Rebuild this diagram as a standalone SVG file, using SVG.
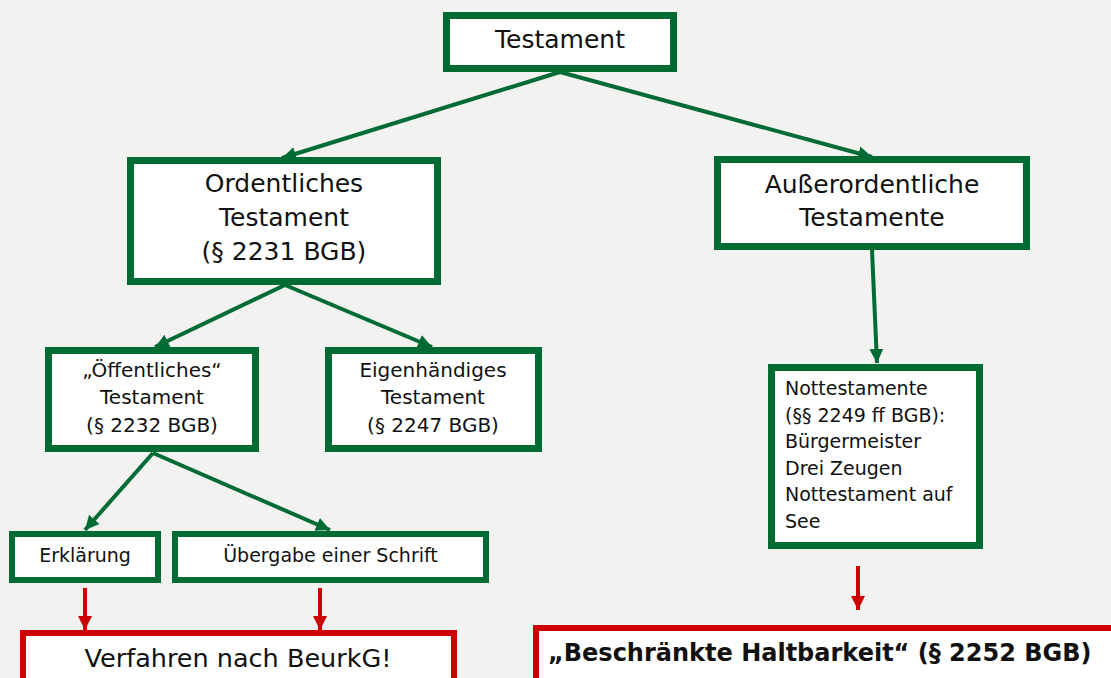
<svg xmlns="http://www.w3.org/2000/svg" width="1111" height="678" viewBox="0 0 1111 678">
<style>
.g{fill:#fff;stroke:#006B33;stroke-width:7}
.gs{fill:#fff;stroke:#006B33;stroke-width:6}
.r{fill:#fff;stroke:#CC0000;stroke-width:6}
.t{font-family:"DejaVu Sans",sans-serif;fill:#111}
.L{font-size:25px}
.M{font-size:20px}
.S{font-size:19px}
.cg{stroke:#006B33;stroke-width:4;fill:none}
.cr{stroke:#CC0000;stroke-width:4;fill:none}
</style>
<defs>
<marker id="ag" markerUnits="userSpaceOnUse" markerWidth="15" markerHeight="15" refX="14" refY="7" orient="auto"><path d="M0,0 L14,7 L0,14 z" fill="#006B33"/></marker>
<marker id="ar" markerUnits="userSpaceOnUse" markerWidth="15" markerHeight="15" refX="14" refY="7" orient="auto"><path d="M0,0 L14,7 L0,14 z" fill="#CC0000"/></marker>
</defs>
<rect width="1111" height="678" fill="#F2F2F0"/>
<g id="connectors">
<line class="cg" x1="560" y1="72" x2="282" y2="158" marker-end="url(#ag)"/>
<line class="cg" x1="560" y1="72" x2="872" y2="157" marker-end="url(#ag)"/>
<line class="cg" x1="285" y1="285" x2="155" y2="347" marker-end="url(#ag)"/>
<line class="cg" x1="285" y1="285" x2="432" y2="347" marker-end="url(#ag)"/>
<line class="cg" x1="153" y1="453" x2="85" y2="530" marker-end="url(#ag)"/>
<line class="cg" x1="153" y1="453" x2="330" y2="530" marker-end="url(#ag)"/>
<line class="cg" x1="872" y1="250" x2="877" y2="363" marker-end="url(#ag)"/>
<line class="cr" x1="85" y1="588" x2="85" y2="630" marker-end="url(#ar)"/>
<line class="cr" x1="320" y1="588" x2="320" y2="630" marker-end="url(#ar)"/>
<line class="cr" x1="858" y1="566" x2="858" y2="610" marker-end="url(#ar)"/>
</g>
<g id="testament">
<rect class="g" x="446.5" y="15.5" width="227" height="53"/>
<text class="t L" x="560" y="48" text-anchor="middle">Testament</text>
</g>
<g id="ordentliches">
<rect class="g" x="130.5" y="160.5" width="307" height="121"/>
<text class="t L" text-anchor="middle"><tspan x="284" y="192">Ordentliches</tspan><tspan x="284" y="226">Testament</tspan><tspan x="284" y="260">(§ 2231 BGB)</tspan></text>
</g>
<g id="ausserordentliche">
<rect class="g" x="717.5" y="159.5" width="309" height="87"/>
<text class="t L" text-anchor="middle"><tspan x="872" y="193">Außerordentliche</tspan><tspan x="872" y="226">Testamente</tspan></text>
</g>
<g id="oeffentliches">
<rect class="g" x="48.5" y="350.5" width="207" height="98"/>
<text class="t M" text-anchor="middle"><tspan x="152" y="377">„Öffentliches“</tspan><tspan x="152" y="404">Testament</tspan><tspan x="152" y="432">(§ 2232 BGB)</tspan></text>
</g>
<g id="eigenhaendiges">
<rect class="g" x="328.5" y="350.5" width="210" height="98"/>
<text class="t M" text-anchor="middle"><tspan x="433" y="377">Eigenhändiges</tspan><tspan x="433" y="404">Testament</tspan><tspan x="433" y="432">(§ 2247 BGB)</tspan></text>
</g>
<g id="nottestamente">
<rect class="g" x="771.5" y="367.5" width="208" height="178"/>
<text class="t S"><tspan x="785" y="395">Nottestamente</tspan><tspan x="785" y="422">(§§ 2249 ff BGB):</tspan><tspan x="785" y="448">Bürgermeister</tspan><tspan x="785" y="475">Drei Zeugen</tspan><tspan x="785" y="501">Nottestament auf</tspan><tspan x="785" y="528">See</tspan></text>
</g>
<g id="erklaerung">
<rect class="gs" x="12" y="534" width="146" height="46"/>
<text class="t S" x="85" y="562" text-anchor="middle">Erklärung</text>
</g>
<g id="uebergabe">
<rect class="gs" x="175" y="534" width="311" height="46"/>
<text class="t S" x="330.5" y="562" text-anchor="middle">Übergabe einer Schrift</text>
</g>
<g id="verfahren">
<rect class="r" x="23" y="633" width="431" height="60"/>
<text class="t" x="238" y="667" text-anchor="middle" style="font-size:25.5px">Verfahren nach BeurkG!</text>
</g>
<g id="beschraenkte">
<rect class="r" x="536" y="628" width="600" height="60"/>
<text class="t" x="548" y="661" style="font-size:24px;font-weight:bold">„Beschränkte Haltbarkeit“ (§ 2252 BGB)</text>
</g>
</svg>
